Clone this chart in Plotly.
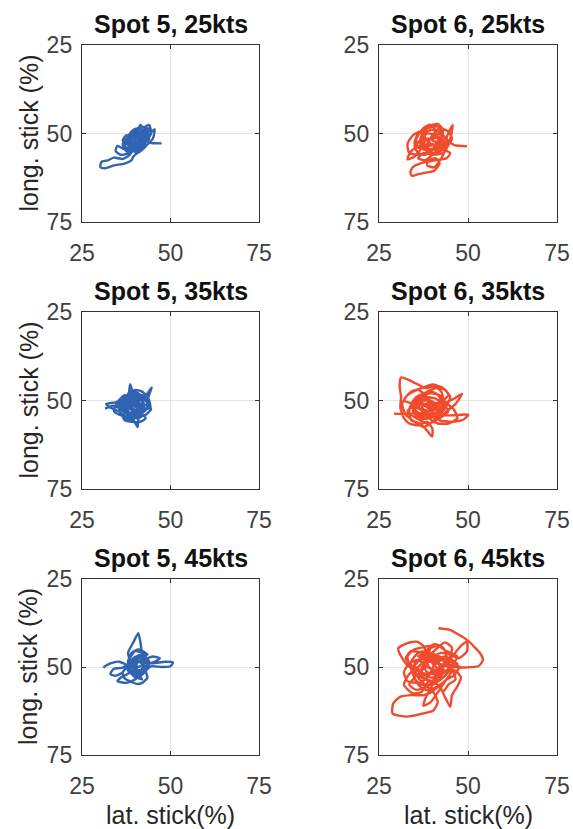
import plotly.graph_objects as go

# ---- data (lat. stick %, long. stick %) ----
spot5_25kts = [(47.5,52.8),(44.0,52.5),(42.0,50.0),(41.5,47.5),(40.5,49.5),(39.0,51.0),(37.5,50.5),(36.5,52.0),
    (38.5,53.5),(41.0,52.0),(43.0,48.0),(44.0,47.6),(44.5,50.0),(42.5,53.0),(40.0,55.0),(37.0,54.5),(35.0,53.5),
    (34.5,55.0),(36.0,56.0),(38.5,55.5),(41.0,54.0),(43.5,51.0),(45.5,48.8),(45.0,51.5),(42.0,54.5),(39.5,56.5),
    (39.0,57.5),(37.0,58.5),(34.0,59.0),(31.5,59.8),(30.2,59.5),(30.5,58.0),(32.5,57.5),(34.0,56.8),(36.5,57.2),
    (38.5,56.0),(40.0,53.0),(38.0,51.0),(39.5,49.0),(41.0,48.5),(42.5,51.0),(41.0,53.5),(38.5,54.0),(37.5,52.0),
    (39.0,50.5),(42.0,51.5),(43.0,53.5),(40.5,55.5),(39.0,54.0),(40.0,52.0),(42.5,50.0),(44.0,51.5),(41.5,53.0),
    (39.5,52.0),(38.0,53.0),(40.5,54.0),(42.0,52.5),
    (41,50),(43,49.5),(42,52),(39.5,53.5),(38,52.5),(40,50.5),(42.5,49),(44,48.5),(43,51),(40.5,53),(38.5,54.5),
    (37,53.5),(39,51.5),(41.5,51),(43.5,50),(42,48),(40.5,48.8),(41,51.5),(39.5,54.5),(37.5,55),(36.5,53),
    (38.5,50.5),(40.5,49.5),(43,50.5),(41.5,52.5),(39,53),(38,51),(40,49),(42.5,48.2),(44.5,49.5),(43,52.5),
    (41,54.5),(38.5,53.8)]

spot6_25kts = [(49.7,53.6),(46,53.2),(44,51.5),(45.7,47.6),(44.8,52),(42,54),(39,52.5),(37.5,50),(39,48),
    (41.5,47.3),(43,49),(42,52.5),(39.5,55),(36,56),(33.5,55.5),(33,53),(34.5,50.5),(36.5,49.5),(38,51.5),(37,54),
    (35,56.5),(33,57.3),(34,55),(36.5,53.5),(40,53),(43,54.5),(45,55.5),(44,57),(41,57.5),(38.5,58),(36.5,58.5),
    (34.5,59.5),(33.8,61),(34.3,62),(36,61.5),(38.5,61),(40.5,60.5),(42,58.5),(41,57),(39,57.5),(38.5,59),
    (40.5,59.5),(42.5,57),(44,54),(45.5,51.5),(44.5,49.5),(42,48.5),(40,50.5),(38.5,53),(36,54),(35.5,51.5),
    (37.5,48.5),(39.5,47.5),(41,49.5),(40,52),(42.5,52.5),(44.5,53),(43,55.5),(40,56),(37.5,55.5),(36,57),
    (38,57.5),(41,55),(43.5,52.5),(41.5,51),(39,51.5),(37,52.5),(39.5,54.5),(42.5,54),
    (41,50),(43.5,51),(42,53.5),(39,54.5),(36.5,53),(37,50.5),(39.5,49),(42,49.5),(44,52),(43,54.5),(40.5,55.5),
    (37.5,54.5),(35,53),(36,50),(38.5,48.5),(41.5,48),(43,50.5),(41,53),(38,53.5),(36.5,52),(38.5,50),(41,50.5),
    (42.5,52.5),(40.5,54),(38,56),(36,55.5),(35,53.5),(37.5,51.5),(40,51.5),(42,51),(43.5,53.5),(41.5,55.5)]

spot5_35kts = [(31.5,52.3),(34,51.5),(36.5,52.5),(38,50),(38.6,45.4),(39.5,48),(41,49),(43,48.5),(44.7,46.3),
    (43.5,50),(44.5,52.5),(43,54),(41,55),(40.7,57.5),(39.5,55.5),(37.5,54.5),(35.5,54),(34,53),(35,50.5),
    (37,48.5),(39,49.5),(41.5,51),(43.5,51.5),(42,53.5),(39.5,54),(37,53),(36,51),(38,50.5),(40.5,52),(42.5,50),
    (41,48),(38.5,47.5),(37.5,49.5),(39,52),(41.5,53.5),(43,55),(41.5,56),(39,56),(37,55.5),(36,53.5),(33,52),
    (31.8,51),(34.5,50.5),(36.5,49.5),(38.5,48),(40,47),(42,47.5),(43.8,49.5),(44.3,52),(42.5,52.5),(40,51),
    (38,52.5),(36.5,54.5),(38.5,55),(40.5,54),(42,52),(40.5,50),(38.5,51),(37.5,53),(39.5,53.5),(41,52.5),
    (37,50),(39.5,49),(42,50),(42.5,52.5),(40.5,54.5),(38,54),(36,52.5),(37,50.5),(39,50),(41,51.5),(40,53.5),
    (37.5,53.5),(36.5,51.5),(38.5,49.5),(41,49.5),(42.5,51),(41.5,53),(39,54.5),(37,52),(39,51),(41,52),
    (39.5,53),(38,51.5),(40,50),(42,51.5),(40.5,55),(38.5,53.5),(36.5,50.5),(38,48.5),(40.5,48.5),(42,49.5),
    (35,52),(37,49),(40,48),(42.5,48.8),(43.5,52),(41.5,54),(38.5,55.5),(36,54),(35.5,51.5),(38,50),
    (40.5,50.5),(41.5,53),(39,52.5),(37.5,51)]

spot6_35kts = [(29.2,53.7),(33,53.8),(37,53.5),(41,54),(45,54.2),(50.1,54),(48.5,55.5),(45,56),(42,55.5),
    (44,53),(46.5,51),(48.3,48.1),(46,49.5),(43.5,50.5),(42.5,47.5),(40.5,46),(38,46.5),(36,45.5),(34,44.5),
    (31.2,43.5),(30.8,46),(31.2,49),(31,52),(32,55),(33.5,56.5),(36,57),(38.5,56),(40,58),(39.9,60.2),
    (38.5,58.5),(36.5,56.5),(34,55.5),(33.5,52.5),(35,49.5),(37.5,48),(40,47.5),(42,49),(43,52),(41,54.5),
    (38,55),(35.5,53.5),(35,51),(37,49.5),(39.5,50),(41.5,51.5),(40,53),(37.5,52.5),(36.5,50),(38.5,47.5),
    (41,46.5),(43.5,47),(45,49),(44,51.5),(42.5,53.5),(40,56),(37.5,57.5),(35,56),(32.5,54),(31.5,51),
    (33,48.5),(36,47),(38.5,49),(39,51.5),(41.5,52.5),(44,51),(46,52.5),(47,55),(44.5,56.5),(41.5,56.5),(39,55),
    (35,50),(38,49),(41,49.5),(43,51),(42,53),(39,54),(36,53.5),(34.5,51.5),(36.5,49),(39.5,48),(42,48.5),
    (43.5,50.5),(41.5,52.5),(38.5,53),(35.5,52),(36,50.5),(38.5,50),(40.5,52),(39,55),(36.5,55),(34.5,53),
    (35.5,50),(38,48),(41,48),(43,50),(42.5,53.5),(40,54.5),(37,54),(35,52.5),(37,51),(40,51),(42,52),
    (32,50),(34,47.5),(37,46.5),(40,45.5),(43,46.5),(44.5,48.5),(42,50.5),(38.5,51),(35,51.5),(33,53),
    (35.5,55),(39,56.5),(42,55),(44.5,53),(42.5,51),(39.5,52.5),(37,50.5),(37.5,48)]

spot5_45kts = [(31,50.1),(33,49),(35.5,48.5),(37.5,49.5),(36.5,51.5),(34.5,52.5),(33,52),(34,50.5),
    (36.5,50.2),(38.5,48.5),(38,46),(39.5,43),(40.9,40.4),(41.5,43),(42,46),(43,47.5),(45,47),(47,47.5),
    (45.5,48.5),(44,49),(46,48.8),(48.5,48.5),(50.7,48.7),(50,49.8),(47.5,50),(44.5,49.8),(43,51),(43.5,53),
    (42,54.5),(40.5,54.8),(38.5,54),(37,53.2),(36.5,51.5),(38,50),(40,50.2),(42,49.5),(43.5,48),(42,46),
    (40,45.5),(38.5,47.5),(38,49.5),(39.5,51.5),(41.5,52),(43,50.5),(42,48.5),(40,48),(38.5,50),(39.5,52.5),
    (42,53.5),(40.5,51.5),(40.5,49),(42.5,47.8),(44,50),(42,51.5),(39.5,50.5),(40,48.2),(41.5,47),(43.5,46.5),
    (41,45),(39,46),(38,48.5),(38.5,51.5),(36,53),(35,54),(37.5,54.5),(40,53.5),(41.5,52.5),
    (39,48),(41.5,47.5),(43.5,49),(42.5,51.5),(40,52.5),(38,51),(38.5,48.5),(41,47),(43,48),(43.5,50.5),
    (41.5,52.5),(39,52),(38,50),(39.5,47.5),(42,46.5),(44,48.5),(42.5,50.5),(40,51),(39,49.5),(41,48.5),
    (42.5,49.5),(41,51.5),(39.5,50.5),(40.5,49)]

spot6_45kts = [(41.7,39.0),(45,39.5),(49.7,42.3),(53.4,46.1),(54.2,48),(53,49.7),(49.7,50.1),(46,50),
    (43,49.5),(40,48),(38,46),(40.5,43.5),(43,44.5),(44,47.5),(42,50.5),(39,52),(35.5,51),(33,49.5),
    (31.5,47.5),(30.4,44.7),(33,43.2),(35.6,42.8),(37.5,44),(38.5,47),(37.5,50.5),(35,53),(33.5,55),
    (35.5,56.5),(38.5,55.5),(41,53),(43.5,51.5),(46.5,51),(48,53),(47,55.5),(45.5,58),(45,61.3),(43.5,58.5),
    (42,55.5),(40,57),(37.5,58),(34,58),(30.9,58.5),(29,60.4),(28.8,63.2),(32.8,64.1),(37.5,63.2),(40.3,62.3),
    (41.5,60),(40.5,57.5),(38,55),(36,53),(37.5,49.5),(40,47),(42.5,46),(45,46.5),(47.5,47.5),(49.7,45.5),
    (49.7,42.8),(48,44),(46,46.5),(44,49),(41.5,51),(39,50),(38.5,47.5),(41,45),(43.5,43),(45.5,44.5),
    (44.5,48),(42,50),(40,51.5),(37,52.5),(34.5,51.5),(34,48.5),(36,46),(38.5,45.5),(41,47.5),(42.5,50.5),
    (41,53.5),(39.5,56),(38,59),(37.5,61),(39.5,60),(42,56.5),(44,53.5),(46,52.5),(47.5,50),(45,48.5),
    (42.5,48),(40.5,49.5),(39,52.5),(36.5,54.5),(33,54),(32,51.5),(33.5,49),(36,48),(38.5,50),(41,51),
    (44,51),(47,49),
    (36,47),(39,46),(42,47),(44.5,49),(44,52),(41,54),(38,53.5),(35.5,52),(35,49),(37.5,47),(40.5,46.5),
    (43,48),(45,50.5),(43,53),(40,55),(37,55),(35,53.5),(34.5,50.5),(36.5,48),(39.5,47.5),(42,49.5),(41,52),
    (38.5,51.5),(37.5,49),(40,48.5),(43,50),(42.5,52.5),(39.5,53),(37,51.5),(38,48.5),(41,47.5),(44,48),
    (45.5,51),(43.5,54),(40.5,56),(38,56.5),(36,55),
    (33,47),(35,45),(37,44.5),(39.5,44),(38,48),(36,50),(33.5,52),(32,55),(34.5,57.5),(37,57),(39,54),
    (41.5,55),(43,57),(44.5,55),(46.5,53.5),(45.5,50),(47,47),(44,45.5),(41.5,44),(39,45),(40,49),
    (42.5,51.5),(40,54),(37.5,53),(36,50.5),(34,49.5),(32.5,47.5),(34,45.5),(37,46),(40.5,48),(43.5,47),
    (46,48.5),(44,51),(40.5,52.5)]

titles = ["Spot 5, 25kts", "Spot 6, 25kts", "Spot 5, 35kts", "Spot 6, 35kts", "Spot 5, 45kts", "Spot 6, 45kts"]
series = [spot5_25kts, spot6_25kts, spot5_35kts, spot6_35kts, spot5_45kts, spot6_45kts]
tick_vals = [25, 50, 75]
tick_text = ["25", "50", "75"]
x_title = "lat. stick(%)"
y_title = "long. stick (%)"

BLUE = "#3063b2"
RED = "#ef4b2c"
W, H = 573, 829
col_px = [(82, 259), (379, 557)]
row_px = [(45, 222), (312, 489), (579, 755)]

fig = go.Figure()
layout = dict(width=W, height=H, margin=dict(l=0, r=0, t=0, b=0, autoexpand=False),
              paper_bgcolor="white", plot_bgcolor="white", showlegend=False)
annotations = []
FONT = "Liberation Sans, Arial, Helvetica, sans-serif"

for i, (pts, title) in enumerate(zip(series, titles)):
    r, c = divmod(i, 2)
    n = i + 1
    xs = [p[0] for p in pts]
    ys = [p[1] for p in pts]
    fig.add_trace(go.Scatter(x=xs, y=ys, mode="lines",
                             line=dict(color=BLUE if c == 0 else RED, width=2.4, shape="spline", smoothing=0.6),
                             xaxis=f"x{n}", yaxis=f"y{n}", hoverinfo="skip"))
    x0, x1 = col_px[c]
    y0, y1 = row_px[r]
    common = dict(showline=True, mirror="ticks", linecolor="#333333", linewidth=1.4,
                  showgrid=True, gridcolor="#e3e3e3", gridwidth=1, zeroline=False,
                  ticks="inside", ticklen=4, tickcolor="#333333", automargin=False,
                  tickvals=tick_vals, ticktext=tick_text,
                  tickfont=dict(family=FONT, size=23, color="#404040"), fixedrange=True)
    layout[f"xaxis{n}"] = dict(common, domain=[x0 / W, x1 / W], range=[25, 75],
                               anchor=f"y{n}", ticklabelstandoff=10)
    layout[f"yaxis{n}"] = dict(common, domain=[1 - y1 / H, 1 - y0 / H], range=[75, 25],
                               anchor=f"x{n}", ticklabelstandoff=4)
    annotations.append(dict(text=f"<b>{title}</b>", x=(x0 + x1) / 2 / W, y=1 - (y0 - 21) / H,
                            xref="paper", yref="paper", xanchor="center", yanchor="middle",
                            showarrow=False, font=dict(family=FONT, size=25, color="#111111")))
    if c == 0:
        annotations.append(dict(text=y_title, x=28 / W, y=1 - (y0 + y1) / 2 / H, textangle=-90,
                                xref="paper", yref="paper", xanchor="center", yanchor="middle",
                                showarrow=False, font=dict(family=FONT, size=25, color="#262626")))
    if r == 2:
        annotations.append(dict(text=x_title, x=(x0 + x1) / 2 / W, y=1 - 815 / H,
                                xref="paper", yref="paper", xanchor="center", yanchor="middle",
                                showarrow=False, font=dict(family=FONT, size=25, color="#262626")))

layout["annotations"] = annotations
fig.update_layout(**layout)
fig.write_html("out.html")
